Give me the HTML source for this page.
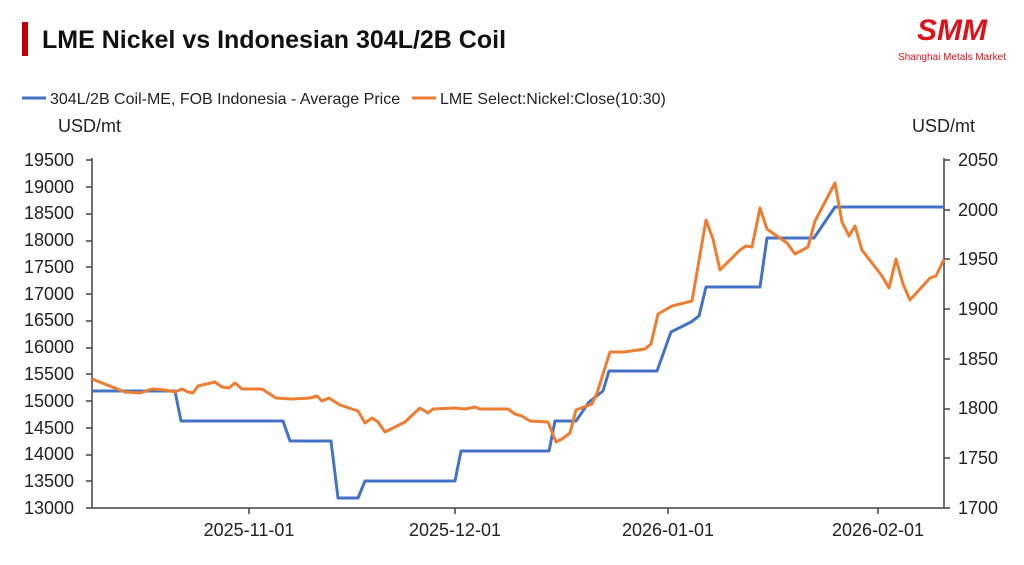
<!DOCTYPE html>
<html><head><meta charset="utf-8"><style>
body{margin:0;background:#fff;width:1024px;height:560px;overflow:hidden;font-family:"Liberation Sans",sans-serif}
</style></head><body>
<svg width="1024" height="560" xmlns="http://www.w3.org/2000/svg" font-family="Liberation Sans, sans-serif">
<rect x="22" y="22" width="6" height="34" fill="#c00000"/>
<text x="42" y="48" font-size="25" font-weight="bold" fill="#111">LME Nickel vs Indonesian 304L/2B Coil</text>
<text x="952" y="40" font-size="30" font-weight="bold" font-style="italic" fill="#d9141b" text-anchor="middle">SMM</text>
<text x="952" y="60" font-size="10" fill="#d9141b" text-anchor="middle">Shanghai Metals Market</text>
<line x1="22" y1="98" x2="46" y2="98" stroke="#4472c4" stroke-width="3"/>
<text x="50" y="104" font-size="16" fill="#222">304L/2B Coil-ME, FOB Indonesia - Average Price</text>
<line x1="412" y1="98" x2="436" y2="98" stroke="#ed7d31" stroke-width="3"/>
<text x="440" y="104" font-size="16" fill="#222">LME Select:Nickel:Close(10:30)</text>
<text x="58" y="132" font-size="18" fill="#222">USD/mt</text>
<text x="912" y="132" font-size="18" fill="#222">USD/mt</text>
<g font-size="18" fill="#222" text-anchor="end">
<text x="74" y="166">19500</text><text x="74" y="193">19000</text><text x="74" y="219">18500</text><text x="74" y="246">18000</text><text x="74" y="273">17500</text><text x="74" y="300">17000</text><text x="74" y="326">16500</text><text x="74" y="353">16000</text><text x="74" y="380">15500</text><text x="74" y="407">15000</text><text x="74" y="434">14500</text><text x="74" y="460">14000</text><text x="74" y="487">13500</text><text x="74" y="514">13000</text>
</g>
<g font-size="18" fill="#222">
<text x="958" y="166">2050</text><text x="958" y="216">2000</text><text x="958" y="265">1950</text><text x="958" y="315">1900</text><text x="958" y="365">1850</text><text x="958" y="414">1800</text><text x="958" y="464">1750</text><text x="958" y="514">1700</text>
</g>
<g font-size="18" fill="#222" text-anchor="middle">
<text x="249" y="536">2025-11-01</text><text x="455" y="536">2025-12-01</text><text x="668" y="536">2026-01-01</text><text x="878" y="536">2026-02-01</text>
</g>
<g stroke="#444" stroke-width="1.5">
<line x1="92" y1="158" x2="92" y2="508"/><line x1="944" y1="158" x2="944" y2="508"/><line x1="92" y1="508" x2="944" y2="508"/>
<path d="M86 160h6M86 187h6M86 214h6M86 241h6M86 267h6M86 294h6M86 321h6M86 348h6M86 374h6M86 401h6M86 428h6M86 455h6M86 481h6M86 508h6"/>
<path d="M944 160h6M944 210h6M944 259h6M944 309h6M944 359h6M944 409h6M944 458h6M944 508h6"/>
<path d="M249 508v6M455 508v6M668 508v6M878 508v6"/>
</g>
<polyline fill="none" stroke="#4472c4" stroke-width="3" stroke-linejoin="round" points="92,391 175,391 181,421 283,421 290,441 331,441 338,498 358,498 365,481 455,481 461,451 549,451 555,421 576,421 589,402 603,391 609,371 657,371 671,332 691,322 699,316 706,287 760,287 767,238 814,238 835,207 944,207"/>
<polyline fill="none" stroke="#ed7d31" stroke-width="3" stroke-linejoin="round" points="92,379 125,392 140,393 152,389 165,390 175,392 182,389 188,392 193,393 198,386 215,382 222,387 229,388 235,383 242,389 262,389 276,398 292,399 310,398 317,396 322,401 329,398 340,405 358,411 365,423 372,418 378,422 385,432 405,422 420,408 428,413 433,409 455,408 465,409 475,407 480,409 508,409 515,414 522,416 530,421 548,422 556,442 562,439 570,433 576,410 592,404 597,393 610,352 624,352 645,349 651,344 658,314 672,306 692,301 706,220 713,239 720,270 740,250 746,246 752,247 760,208 767,229 787,243 795,254 808,247 815,221 835,183 842,222 849,236 855,226 862,250 882,276 889,288 896,259 903,284 910,300 930,278 936,276 944,259"/>
</svg>
</body></html>
